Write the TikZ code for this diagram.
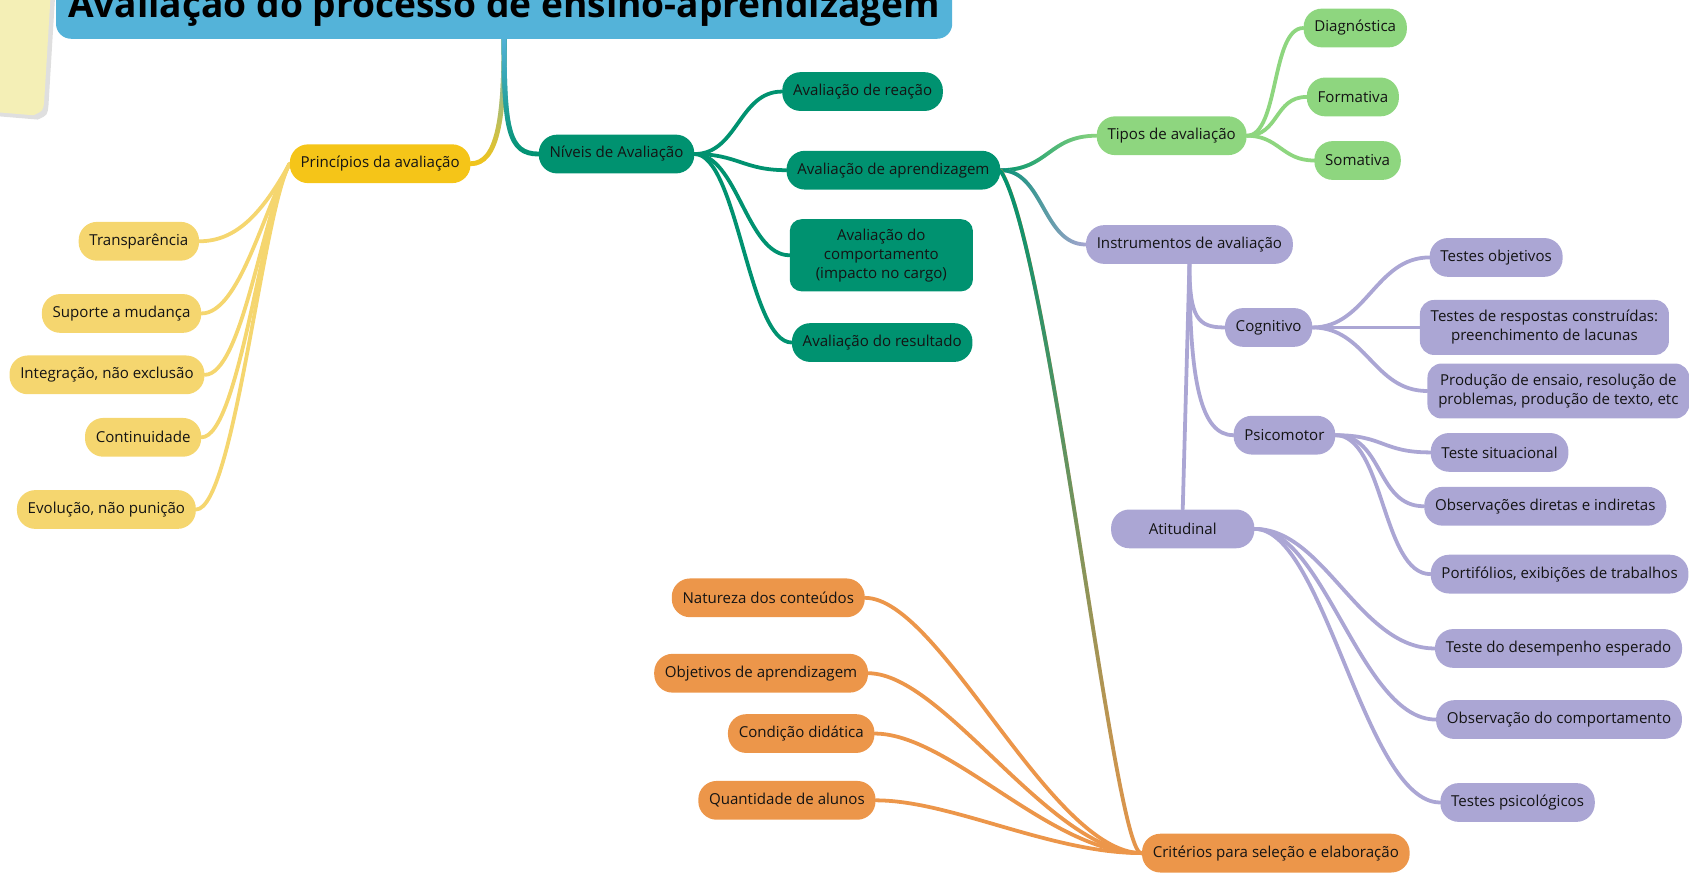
\documentclass[tikz,border=0pt]{standalone}
\usepackage{fontspec}
\setmainfont{Open Sans}
\usetikzlibrary{backgrounds,fadings,shadows}

\definecolor{azultitulo}{RGB}{84,179,217}
\definecolor{notaamarela}{RGB}{244,239,182}
\definecolor{ouro}{RGB}{245,197,24}
\definecolor{amarelo}{RGB}{245,214,111}
\definecolor{verdeesc}{RGB}{0,146,112}
\definecolor{verdecl}{RGB}{142,214,127}
\definecolor{lilas}{RGB}{171,166,212}
\definecolor{laranja}{RGB}{236,150,74}
\definecolor{tinta}{RGB}{20,20,20}

\tikzset{
  caixa/.style={rounded corners=17pt, minimum height=36pt, inner xsep=10pt, inner ysep=3pt,
    font=\fontsize{14}{17.5}\selectfont, text=tinta, align=center},
  cxprin/.style={caixa, fill=ouro},
  cxamar/.style={caixa, fill=amarelo},
  cxniv/.style={caixa, fill=verdeesc},
  cxtipo/.style={caixa, fill=verdecl},
  cxlilas/.style={caixa, fill=lilas},
  cxlar/.style={caixa, fill=laranja},
  titulo/.style={fill=azultitulo, rounded corners=14pt, anchor=base, minimum width=832pt,
    text height=34pt, text depth=8pt, inner ysep=12pt, font=\bfseries\fontsize{34.5}{40}\selectfont},
  ramo/.style={line width=3.5pt, line cap=round},
  degrade/.style 2 args={draw=#2, postaction={draw=#1, path fading=south}},
  degradex/.style 2 args={draw=#2, postaction={draw=#1, path fading=east}},
}

\begin{document}
\begin{tikzpicture}[x=1pt, y=-1pt, line join=round, line cap=round]
  \useasboundingbox (0,0) rectangle (1568,810);
  \clip (0,0) rectangle (1568,810);

  % nota adesiva
  \fill[notaamarela, drop shadow={shadow xshift=4pt, shadow yshift=-4pt, opacity=0.25}]
    (-5,-5) -- (47,-5) -- (41,94) .. controls (40,103) .. (31,107) -- (-5,104) -- cycle;

  \node[titulo] (titulo) at (468,16) {Avaliação do processo de ensino-aprendizagem};

  % principios
  \node[cxprin, anchor=east] (prin) at (437,152) {Princípios da avaliação};
  \node[cxamar, anchor=east] (transp) at (185,224) {Transparência};
  \node[cxamar, anchor=east] (suporte) at (187,291) {Suporte a mudança};
  \node[cxamar, anchor=east] (integr) at (190,348) {Integração, não exclusão};
  \node[cxamar, anchor=east] (contin) at (187,406) {Continuidade};
  \node[cxamar, anchor=east] (evol) at (182,473) {Evolução, não punição};

  % niveis
  \node[cxniv, anchor=west] (niv) at (500,143) {Níveis de Avaliação};
  \node[cxniv, anchor=west] (reacao) at (726,85) {Avaliação de reação};
  \node[cxniv, anchor=west] (aprend) at (730,158) {Avaliação de aprendizagem};
  \node[cxniv, anchor=west, rounded corners=11pt, minimum width=170pt, minimum height=67pt] (comport)
    at (733,237) {Avaliação do\\comportamento\\(impacto no cargo)};
  \node[cxniv, anchor=west] (result) at (735,318) {Avaliação do resultado};

  % tipos
  \node[cxtipo, anchor=west] (tipos) at (1018,126) {Tipos de avaliação};
  \node[cxtipo, anchor=west] (diag) at (1210,26) {Diagnóstica};
  \node[cxtipo, anchor=west] (form) at (1213,90) {Formativa};
  \node[cxtipo, anchor=west] (somat) at (1220,149) {Somativa};

  % instrumentos
  \node[cxlilas, anchor=west] (instr) at (1008,227) {Instrumentos de avaliação};
  \node[cxlilas, anchor=west] (cog) at (1137,304) {Cognitivo};
  \node[cxlilas, anchor=west] (psi) at (1145,404) {Psicomotor};
  \node[cxlilas, minimum width=133pt] (atit) at (1098,491) {Atitudinal};
  \node[cxlilas, anchor=west] (tobj) at (1327,239) {Testes objetivos};
  \node[cxlilas, anchor=west, rounded corners=13pt, minimum height=51pt] (tresp) at (1318,304)
    {Testes de respostas construídas:\\preenchimento de lacunas};
  \node[cxlilas, anchor=west, rounded corners=13pt, minimum height=51pt] (prod) at (1325,363)
    {Produção de ensaio, resolução de\\problemas, produção de texto, etc};
  \node[cxlilas, anchor=west] (tsit) at (1328,420) {Teste situacional};
  \node[cxlilas, anchor=west] (obsdi) at (1322,470) {Observações diretas e indiretas};
  \node[cxlilas, anchor=west] (portf) at (1328,533) {Portifólios, exibições de trabalhos};
  \node[cxlilas, anchor=west] (tdes) at (1332,602) {Teste do desempenho esperado};
  \node[cxlilas, anchor=west] (obscomp) at (1333,668) {Observação do comportamento};
  \node[cxlilas, anchor=west] (tpsi) at (1337,745) {Testes psicológicos};

  % criterios
  \node[cxlar, anchor=west] (crit) at (1060,792) {Critérios para seleção e elaboração};
  \node[cxlar, anchor=east] (natur) at (803,555) {Natureza dos conteúdos};
  \node[cxlar, anchor=east] (objet) at (806,625) {Objetivos de aprendizagem};
  \node[cxlar, anchor=east] (cond) at (812,681) {Condição didática};
  \node[cxlar, anchor=east] (quant) at (813,743) {Quantidade de alunos};

  \begin{scope}[on background layer]
    \draw[ramo, line width=4.5pt, degrade={azultitulo}{ouro}]
      (titulo.south) .. controls (468,110) and (462,152) .. (prin.east);
    \draw[ramo, line width=4.5pt, degrade={azultitulo}{verdeesc}]
      (titulo.south) .. controls (468,120) and (472,143) .. (niv.west);
    \foreach \f in {transp,suporte,integr,contin,evol}
      \draw[ramo, amarelo] (prin.west) .. controls +(-25,45) and +(35,0) .. (\f.east);
    \foreach \f in {reacao,aprend,comport,result}
      \draw[ramo, verdeesc] (niv.east) .. controls +(40,0) and +(-40,0) .. (\f.west);
    \draw[ramo, degradex={verdeesc}{verdecl}]
      (aprend.east) .. controls +(45,0) and +(-45,0) .. (tipos.west);
    \draw[ramo, degradex={verdeesc}{lilas}]
      (aprend.east) .. controls +(40,0) and +(-40,0) .. (instr.west);
    \draw[ramo, degrade={verdeesc}{laranja}]
      (aprend.east) .. controls (975,230) and (1035,800) .. (crit.west);
    \foreach \f in {diag,form,somat}
      \draw[ramo, verdecl] (tipos.east) .. controls +(30,0) and +(-30,0) .. (\f.west);
    \draw[ramo, lilas] (instr.south) .. controls +(0,50) and +(-25,0) .. (cog.west);
    \draw[ramo, lilas] (instr.south) .. controls +(0,110) and +(-30,0) .. (psi.west);
    \draw[ramo, lilas] (instr.south) -- (atit.north);
    \foreach \f in {tobj,tresp,prod}
      \draw[ramo, lilas] (cog.east) .. controls +(50,0) and +(-50,0) .. (\f.west);
    \foreach \f in {tsit,obsdi,portf}
      \draw[ramo, lilas] (psi.east) .. controls +(45,0) and +(-45,0) .. (\f.west);
    \foreach \f in {tdes,obscomp,tpsi}
      \draw[ramo, lilas] (atit.east) .. controls +(65,0) and +(-70,0) .. (\f.west);
    \foreach \f in {natur,objet,cond,quant}
      \draw[ramo, laranja] (crit.west) .. controls +(-85,0) and +(70,0) .. (\f.east);
  \end{scope}
\end{tikzpicture}
\end{document}
